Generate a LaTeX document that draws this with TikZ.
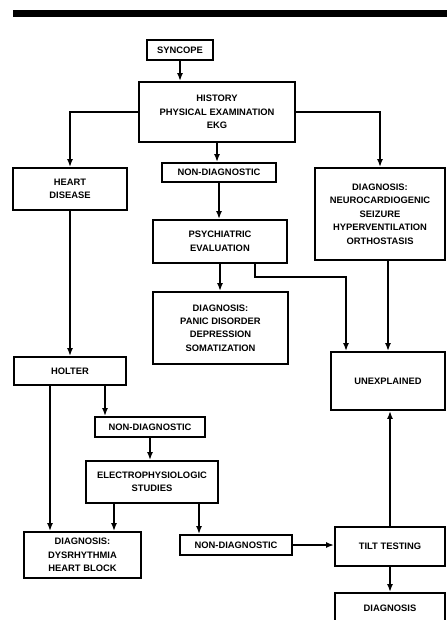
\documentclass[tikz,border=0pt]{standalone}
\usepackage{fontspec}
\setsansfont{Liberation Sans}
\usetikzlibrary{arrows.meta}

\begin{document}
\begin{tikzpicture}[
    x=0.3mm, y=-0.3mm,
    box/.style={draw=black, line width=1.6pt, fill=white, align=center,
        inner sep=1pt, font=\sffamily\bfseries\fontsize{8}{11.5}\selectfont},
    sz/.style 2 args={minimum width=#1*0.3mm, minimum height=#2*0.3mm},
    edge/.style={line width=1.6pt, -{Latex[length=2.4mm, width=1.8mm]}}
]
    \useasboundingbox (0,0) rectangle (447,620);
    \fill (13,10) rectangle (447,17);

    \node[box, sz={66}{20}] (syncope) at (180,50) {SYNCOPE};
    \node[box, sz={156}{60}] (hist) at (217,112) {HISTORY\\PHYSICAL EXAMINATION\\EKG};
    \node[box, sz={114}{42}] (heart) at (70,189) {HEART\\DISEASE};
    \node[box, sz={114}{19}] (nd1) at (219,172.5) {NON-DIAGNOSTIC};
    \node[box, sz={130}{92}] (diagr) at (380,214) {DIAGNOSIS:\\NEUROCARDIOGENIC\\SEIZURE\\HYPERVENTILATION\\ORTHOSTASIS};
    \node[box, sz={134}{43}] (psych) at (220,241.5) {PSYCHIATRIC\\EVALUATION};
    \node[box, sz={135}{72}] (panic) at (220.5,328) {DIAGNOSIS:\\PANIC DISORDER\\DEPRESSION\\SOMATIZATION};
    \node[box, sz={114}{58}] (unexpl) at (388,381) {UNEXPLAINED};
    \node[box, sz={112}{28}] (holter) at (70,371) {HOLTER};
    \node[box, sz={110}{20}] (nd2) at (150,427) {NON-DIAGNOSTIC};
    \node[box, sz={132}{42}] (ep) at (152,482) {ELECTROPHYSIOLOGIC\\STUDIES};
    \node[box, sz={117}{46}] (dysr) at (82.5,555) {DIAGNOSIS:\\DYSRHYTHMIA\\HEART BLOCK};
    \node[box, sz={112}{20}] (nd3) at (236,545) {NON-DIAGNOSTIC};
    \node[box, sz={110}{39}] (tilt) at (390,546.5) {TILT TESTING};
    \node[box, sz={110}{30}] (diag) at (390,608) {DIAGNOSIS};

    \coordinate (j1) at (255,277);
    \coordinate (j2) at (346,277);

    \draw[edge] (syncope.south) -- (syncope.south |- hist.north);
    \draw[edge] (hist.west) -| (heart.north);
    \draw[edge] (hist.south) -- (hist.south |- nd1.north);
    \draw[edge] (hist.east) -| (diagr.north);
    \draw[edge] (nd1.south) -- (nd1.south |- psych.north);
    \draw[edge] (psych.south) -- (psych.south |- panic.north);
    \draw[edge] (psych.south -| j1) |- (j2) -- (j2 |- unexpl.north);
    \draw[edge] (unexpl.north |- diagr.south) -- (unexpl.north);
    \draw[edge] (heart.south) -- (heart.south |- holter.north);
    \draw[edge] ([xshift=-6mm]holter.south) -- ([xshift=-6mm]holter.south |- dysr.north);
    \draw[edge] ([xshift=10.5mm]holter.south) -- ([xshift=10.5mm]holter.south |- nd2.north);
    \draw[edge] (nd2.south) -- (nd2.south |- ep.north);
    \draw[edge] ([xshift=-11.4mm]ep.south) -- ([xshift=-11.4mm]ep.south |- dysr.north);
    \draw[edge] ([xshift=14.1mm]ep.south) -- ([xshift=14.1mm]ep.south |- nd3.north);
    \draw[edge] (nd3.east) -- (nd3.east -| tilt.west);
    \draw[edge] (tilt.north) -- (tilt.north |- unexpl.south);
    \draw[edge] (tilt.south) -- (diag.north);
\end{tikzpicture}
\end{document}
